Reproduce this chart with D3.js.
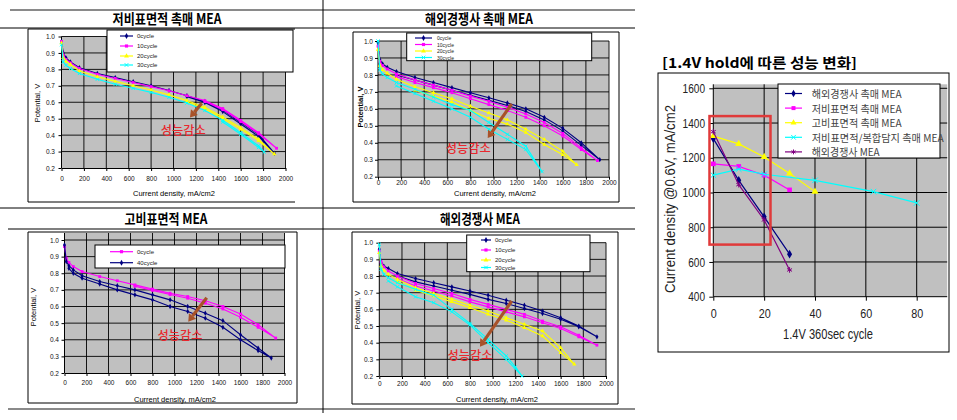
<!DOCTYPE html>
<html><head><meta charset="utf-8">
<script src="https://cdn.jsdelivr.net/npm/d3@7"></script>
<style>body{margin:0;background:#fff}svg{display:block}</style>
</head><body>
<svg id="c" width="957" height="420"></svg>
<script>
// ---------------- data ----------------
const currentTicks = [0,200,400,600,800,1000,1200,1400,1600,1800,2000];
const potentialTicks = [0.2,0.3,0.4,0.5,0.6,0.7,0.8,0.9,1.0];
const cycleTicks = [0,20,40,60,80];
const densityTicks = [400,600,800,1000,1200,1400,1600];

const panelTitles = ["저비표면적 촉매 MEA","해외경쟁사 촉매 MEA","고비표면적 MEA","해외경쟁사 MEA"];
const cycleLabels4 = ["0cycle","10cycle","20cycle","30cycle"];
const cycleLabels2 = ["0cycle","40cycle"];
const noteText = "성능감소";

// [current density mA/cm2, potential V] in scan order (forward, then return)
const tlCycle0 = [[0,0.97],[16,0.90],[40,0.87],[80,0.845],[160,0.81],[320,0.775],[480,0.75],[640,0.725],[800,0.70],[960,0.672],[1120,0.64],[1280,0.605],[1440,0.552],[1600,0.478],[1760,0.405],[1900,0.29],[1760,0.393],[1600,0.468],[1440,0.543],[1280,0.598],[1120,0.634]];
const tlCycle10 = [[0,0.97],[16,0.885],[40,0.86],[80,0.84],[160,0.805],[320,0.77],[480,0.745],[640,0.72],[800,0.695],[960,0.67],[1120,0.64],[1280,0.61],[1440,0.562],[1600,0.49],[1760,0.415],[1920,0.32],[1760,0.408],[1600,0.482],[1440,0.555],[1280,0.604]];
const tlCycle20 = [[0,0.96],[16,0.87],[40,0.85],[80,0.83],[160,0.79],[320,0.755],[480,0.727],[640,0.70],[800,0.675],[960,0.645],[1120,0.61],[1280,0.57],[1440,0.51],[1600,0.445],[1760,0.375],[1900,0.285],[1760,0.365],[1600,0.435],[1440,0.50],[1280,0.56],[1120,0.602]];
const tlCycle30 = [[0,0.95],[16,0.845],[40,0.825],[80,0.805],[160,0.775],[320,0.74],[480,0.71],[640,0.685],[800,0.66],[960,0.63],[1120,0.595],[1280,0.55],[1440,0.49],[1600,0.415],[1760,0.335],[1810,0.297],[1760,0.325],[1600,0.405],[1440,0.48]];

const tmCycle0 = [[0,0.99],[16,0.89],[40,0.865],[80,0.845],[160,0.82],[320,0.785],[480,0.755],[640,0.725],[800,0.695],[960,0.665],[1120,0.635],[1280,0.60],[1440,0.55],[1600,0.485],[1760,0.40],[1920,0.30],[1760,0.385],[1600,0.47],[1440,0.535],[1280,0.585],[1120,0.62],[960,0.65],[800,0.68],[640,0.71],[480,0.74],[320,0.77],[160,0.80]];
const tmCycle10 = [[0,0.97],[16,0.88],[40,0.855],[80,0.835],[160,0.805],[320,0.77],[480,0.74],[640,0.71],[800,0.675],[960,0.645],[1120,0.61],[1280,0.57],[1440,0.52],[1600,0.455],[1760,0.37],[1900,0.295],[1760,0.36],[1600,0.44],[1440,0.50],[1280,0.55],[1120,0.59],[960,0.625],[800,0.66],[640,0.695],[480,0.725],[320,0.755],[160,0.79]];
const tmCycle20 = [[0,0.95],[16,0.855],[40,0.83],[80,0.81],[160,0.775],[320,0.73],[480,0.695],[640,0.66],[800,0.615],[960,0.575],[1120,0.535],[1280,0.48],[1440,0.42],[1600,0.35],[1720,0.27],[1600,0.33],[1440,0.39],[1280,0.46],[1120,0.51],[960,0.545],[800,0.59],[640,0.64],[480,0.675],[320,0.71]];
const tmCycle30 = [[0,1.0],[16,0.83],[40,0.805],[80,0.785],[160,0.755],[320,0.715],[480,0.67],[640,0.625],[800,0.59],[960,0.52],[1120,0.45],[1280,0.38],[1420,0.23],[1280,0.36],[1120,0.42],[960,0.48],[800,0.55],[640,0.60],[480,0.645],[320,0.69],[160,0.735]];

const blCycle0 = [[0,0.96],[16,0.89],[40,0.865],[80,0.84],[160,0.81],[320,0.78],[480,0.755],[640,0.73],[800,0.705],[960,0.68],[1120,0.66],[1280,0.635],[1440,0.60],[1600,0.555],[1760,0.49],[1920,0.41],[1760,0.475],[1600,0.535],[1440,0.585],[1280,0.62],[1120,0.65],[960,0.672],[800,0.697],[640,0.722]];
const blCycle40 = [[0,0.97],[16,0.87],[40,0.845],[80,0.82],[160,0.785],[320,0.75],[480,0.725],[640,0.70],[800,0.67],[960,0.64],[1120,0.60],[1280,0.56],[1440,0.515],[1600,0.43],[1760,0.35],[1880,0.29],[1760,0.335],[1600,0.40],[1440,0.475],[1280,0.53],[1120,0.57],[960,0.60],[800,0.64],[640,0.67],[480,0.70],[320,0.735],[160,0.77],[80,0.80],[40,0.83]];

const bmCycle0 = [[0,0.96],[16,0.88],[40,0.86],[80,0.845],[160,0.815],[320,0.785],[480,0.76],[640,0.735],[800,0.71],[960,0.685],[1120,0.655],[1280,0.625],[1440,0.59],[1600,0.55],[1760,0.50],[1920,0.435],[1760,0.495],[1600,0.54],[1440,0.575],[1280,0.605],[1120,0.635],[960,0.66],[800,0.69],[640,0.715],[480,0.74],[320,0.765],[160,0.80]];
const bmCycle10 = [[0,0.95],[16,0.885],[40,0.855],[80,0.83],[160,0.80],[320,0.755],[480,0.725],[640,0.695],[800,0.66],[960,0.63],[1120,0.60],[1280,0.57],[1440,0.53],[1600,0.495],[1760,0.445],[1920,0.385],[1760,0.435],[1600,0.485],[1440,0.52],[1280,0.555],[1120,0.585],[960,0.615],[800,0.645],[640,0.68],[480,0.71],[320,0.74],[160,0.785]];
const bmCycle20 = [[0,0.94],[16,0.86],[40,0.835],[80,0.81],[160,0.78],[320,0.73],[480,0.695],[640,0.66],[800,0.625],[960,0.59],[1120,0.55],[1280,0.51],[1440,0.47],[1600,0.37],[1720,0.27],[1600,0.34],[1440,0.44],[1280,0.49],[1120,0.535],[960,0.57],[800,0.61],[640,0.645],[480,0.68],[320,0.715],[160,0.765]];
const bmCycle30 = [[0,0.99],[16,0.84],[40,0.81],[80,0.79],[160,0.76],[320,0.72],[480,0.685],[640,0.60],[800,0.515],[960,0.42],[1120,0.32],[1200,0.255],[1260,0.2],[1120,0.30],[960,0.40],[800,0.505],[640,0.585],[480,0.64],[320,0.675],[160,0.735],[80,0.77]];

// annotation arrows in data units: [from, to], and note position
const tlArrow = [[1252,0.594],[1147,0.507]], tlNote = [1087,0.432];
const tmArrow = [[1157,0.629],[950,0.428]],  tmNote = [782,0.372];
const blArrow = [[1293,0.653],[1125,0.509]], blNote = [1050,0.432];
const bmArrow = [[1168,0.65],[888,0.376]],   bmNote = [800,0.330];

// right chart: 1.4V hold cycling
const holdTitle = "[1.4V hold에 따른 성능 변화]";
const holdNames = ["해외경쟁사 촉매 MEA","저비표면적 촉매 MEA","고비표면적 촉매 MEA","저비표면적/복합담지 촉매 MEA","해외경쟁사 MEA"];
const holdCyclesA = [0,10,20,30];        const holdA = [1310,1070,860,645];
const holdCyclesB = [0,10,20,30];        const holdB = [1165,1150,1100,1015];
const holdCyclesC = [0,10,20,30,40];     const holdC = [1325,1280,1205,1110,1005];
const holdCyclesD = [0,10,20,40,63,80];  const holdD = [1100,1135,1105,1070,1005,940];
const holdCyclesE = [0,10,20,30];        const holdE = [1350,1045,842,554];
const holdBoxCycles = [-1.5,22.5], holdBoxDensity = [700,1440];

// ---------------- drawing ----------------
const svg = d3.select("#c");
const KR = "'Noto Sans CJK KR', sans-serif";
const LAT = "'Liberation Sans', Arial, sans-serif";
const NAVY="#000080", MAG="#ff00ff", YEL="#ffff00", CYA="#00ffff", PUR="#800080";
const SYM = {diamond:d3.symbolDiamond, square:d3.symbolSquare, triangle:d3.symbolTriangle, times:d3.symbolTimes, asterisk:d3.symbolAsterisk};
const STROKE_SYM = {times:true, asterisk:true};

function hline(x1,x2,y,c,w){svg.append("line").attr("x1",x1).attr("x2",x2).attr("y1",y).attr("y2",y).attr("stroke",c).attr("stroke-width",w);}
function vline(x,y1,y2,c,w){svg.append("line").attr("x1",x).attr("x2",x).attr("y1",y1).attr("y2",y2).attr("stroke",c).attr("stroke-width",w);}

// table frame
hline(10,635,10,"#8a8a8a",2);
hline(0,635,28,"#000",1);
hline(0,635,208,"#000",1);
hline(8,635,229,"#555",1.5);
hline(8,635,409,"#8a8a8a",2);
vline(323,0,413,"#000",1);

const titlePos = [[167,18,109],[479,18,108],[166,218,83],[480,218,80]];
panelTitles.forEach((t,i)=>{
  svg.append("text").attr("x",titlePos[i][0]).attr("y",titlePos[i][1]).attr("text-anchor","middle")
    .attr("dominant-baseline","central").attr("font-family",KR).attr("font-weight","bold").attr("font-size",14)
    .attr("textLength",titlePos[i][2]).attr("lengthAdjust","spacingAndGlyphs").text(t);
});

function marker(g, sym, color, x, y, size){
  const p = g.append("path").attr("d", d3.symbol().type(SYM[sym]).size(size)()).attr("transform",`translate(${x},${y})`);
  if (STROKE_SYM[sym]) p.attr("fill","none").attr("stroke",color).attr("stroke-width",1);
  else p.attr("fill",color).attr("stroke","none");
}

function arrow(g,x1,y1,x2,y2,color){
  const dx=x2-x1, dy=y2-y1, L=Math.hypot(dx,dy), ux=dx/L, uy=dy/L;
  const hl=7, hw=4.5, bx=x2-ux*hl, by=y2-uy*hl;
  g.append("line").attr("x1",x1).attr("y1",y1).attr("x2",bx).attr("y2",by).attr("stroke",color).attr("stroke-width",3.2);
  g.append("path").attr("d",`M${x2},${y2}L${bx-uy*hw},${by+ux*hw}L${bx+uy*hw},${by-ux*hw}Z`).attr("fill",color);
}

function ivChart(cfg){
  const g = svg.append("g");
  const x = d3.scaleLinear().domain([0,2000]).range([cfg.x0,cfg.x1]);
  const y = d3.scaleLinear().domain([0.2,1.0]).range([cfg.yb,cfg.yt]);
  const b = cfg.box;
  hline(b.x,b.x+b.w,b.y,"#000",1); hline(b.x,b.x+b.w,b.y+b.h,"#000",1);
  vline(b.x,b.y,b.y+b.h,"#000",1);
  if (b.right) vline(b.x+b.w,b.y,b.y+b.h,"#000",1);
  const gt = cfg.grayTop ?? cfg.yt;
  g.append("rect").attr("x",cfg.x0).attr("y",gt).attr("width",cfg.x1-cfg.x0).attr("height",cfg.yb-gt).attr("fill","#c0c0c0");
  g.selectAll(null).data(currentTicks.slice(1)).join("line").attr("x1",d=>x(d)).attr("x2",d=>x(d))
    .attr("y1",gt).attr("y2",cfg.yb).attr("stroke","#000").attr("stroke-width",0.9);
  g.selectAll(null).data(potentialTicks.slice(1)).join("line").attr("x1",cfg.x0).attr("x2",cfg.x1)
    .attr("y1",d=>y(d)).attr("y2",d=>y(d)).attr("stroke","#000").attr("stroke-width",0.9);
  const ax = g.append("g").attr("transform",`translate(0,${cfg.yb})`)
    .call(d3.axisBottom(x).tickValues(currentTicks).tickFormat(d3.format("d")).tickSize(3).tickSizeOuter(0));
  ax.selectAll("text").attr("y",cfg.xLabelY-cfg.yb).attr("dy","0.35em").attr("font-family",LAT).attr("font-size",cfg.tickFs).attr("fill","#111");
  const ay = g.append("g").attr("transform",`translate(${cfg.x0},0)`)
    .call(d3.axisLeft(y).tickValues(potentialTicks).tickFormat(d3.format(".1f")).tickSize(3).tickSizeOuter(0));
  ay.select(".domain").attr("d",`M0,${gt}V${cfg.yb}`);
  ay.selectAll("text").attr("x",cfg.yLabelX-cfg.x0).attr("font-family",LAT).attr("font-size",cfg.tickFs).attr("fill","#111");
  g.append("text").attr("x",cfg.xTitle[0]).attr("y",cfg.xTitle[1]).attr("text-anchor","middle").attr("dominant-baseline","central")
    .attr("font-family",LAT).attr("font-size",7.5).text("Current density, mA/cm2");
  g.append("text").attr("transform",`translate(${cfg.yTitle[0]},${cfg.yTitle[1]}) rotate(-90)`).attr("text-anchor","middle")
    .attr("dominant-baseline","central").attr("font-family",LAT).attr("font-size",7.5).attr("font-weight",cfg.yTitleBold?"bold":"normal").text("Potential, V");
  const line = d3.line().x(d=>x(d[0])).y(d=>y(d[1]));
  cfg.series.forEach(s=>{
    g.append("path").attr("d",line(s.data)).attr("fill","none").attr("stroke",s.color).attr("stroke-width",1.1);
    s.data.forEach(d=>marker(g,s.sym,s.color,x(d[0]),y(d[1]),8));
  });
  const L = cfg.legend;
  g.append("rect").attr("x",L.x).attr("y",L.y).attr("width",L.w).attr("height",L.h).attr("fill","#fff").attr("stroke","#000").attr("stroke-width",1);
  cfg.series.forEach((s,i)=>{
    const ry = L.rows[i];
    g.append("line").attr("x1",L.lx[0]).attr("x2",L.lx[1]).attr("y1",ry).attr("y2",ry).attr("stroke",s.color).attr("stroke-width",1.2);
    marker(g,s.sym,s.color,(L.lx[0]+L.lx[1])/2,ry,10);
    g.append("text").attr("x",L.tx).attr("y",ry).attr("dominant-baseline","central").attr("font-family",LAT)
      .attr("font-size",L.fs).attr("fill","#222").text(s.name);
  });
  arrow(g,x(cfg.arrow[0][0]),y(cfg.arrow[0][1]),x(cfg.arrow[1][0]),y(cfg.arrow[1][1]),"#a8522a");
  g.append("text").attr("x",x(cfg.note[0])).attr("y",y(cfg.note[1])).attr("text-anchor","middle").attr("dominant-baseline","central")
    .attr("font-family",KR).attr("font-size",12).attr("font-weight","500").attr("fill","#e8282e")
    .attr("textLength",45).attr("lengthAdjust","spacingAndGlyphs").text(noteText);
}

const four = (a,b,c,d)=>[
  {name:cycleLabels4[0],data:a,color:NAVY,sym:"diamond"},
  {name:cycleLabels4[1],data:b,color:MAG,sym:"square"},
  {name:cycleLabels4[2],data:c,color:YEL,sym:"triangle"},
  {name:cycleLabels4[3],data:d,color:CYA,sym:"times"}];

ivChart({x0:61.5,x1:285.5,yt:36.5,yb:168,yLabelX:55,xLabelY:179,tickFs:6.5,xTitle:[174,193],yTitle:[37,103],
  box:{x:28,y:29,w:267,h:173,right:false},
  legend:{x:107,y:30,w:186,h:42,rows:[36,46,56,65],lx:[120,133],tx:137,fs:6},
  series:four(tlCycle0,tlCycle10,tlCycle20,tlCycle30),arrow:tlArrow,note:tlNote});
ivChart({x0:378,x1:609,yt:41,yb:176.7,yLabelX:373,xLabelY:183,tickFs:6.5,xTitle:[495,193],yTitle:[360,107],yTitleBold:true,
  box:{x:353,y:32,w:266,h:170,right:true},
  legend:{x:406.7,y:33,w:185,h:27.7,rows:[38,44.5,51,57.5],lx:[415,432],tx:437,fs:5},
  series:four(tmCycle0,tmCycle10,tmCycle20,tmCycle30),arrow:tmArrow,note:tmNote});
ivChart({x0:64.5,x1:284.5,yt:240,yb:373,grayTop:233,yLabelX:59,xLabelY:383,tickFs:6.5,xTitle:[175,399],yTitle:[33,307],
  box:{x:28,y:232,w:269,h:171,right:true},
  legend:{x:95,y:245,w:190,h:23,rows:[251.7,262.7],lx:[110,133],tx:137,fs:6},
  series:[{name:cycleLabels2[0],data:blCycle0,color:MAG,sym:"square"},{name:cycleLabels2[1],data:blCycle40,color:NAVY,sym:"diamond"}],
  arrow:blArrow,note:blNote});
ivChart({x0:379.3,x1:606,yt:242.7,yb:376,yLabelX:373,xLabelY:384,tickFs:6.5,xTitle:[497,399],yTitle:[357,310],
  box:{x:352,y:232,w:266,h:172,right:true},
  legend:{x:466.7,y:235,w:123.3,h:36.7,rows:[240,250,260,267.5],lx:[481,491],tx:495,fs:6},
  series:four(bmCycle0,bmCycle10,bmCycle20,bmCycle30),arrow:bmArrow,note:bmNote});

// ---------------- right chart ----------------
(function(){
  const g = svg.append("g");
  const x = d3.scaleLinear().domain([0,92]).range([713.3,947.2]);
  const y = d3.scaleLinear().domain([400,1600]).range([296.7,88.3]);
  g.append("text").attr("x",662).attr("y",62).attr("dominant-baseline","central").attr("font-family",KR)
    .attr("font-weight","bold").attr("font-size",14).attr("textLength",195).attr("lengthAdjust","spacingAndGlyphs").text(holdTitle);
  g.append("rect").attr("x",658).attr("y",73).attr("width",291).attr("height",279).attr("fill","#fff").attr("stroke","#000").attr("stroke-width",1);
  g.append("rect").attr("x",x(0)).attr("y",y(1600)-4).attr("width",x(92)-x(0)).attr("height",y(400)-y(1600)+4).attr("fill","#c0c0c0");
  g.selectAll(null).data(cycleTicks.slice(1)).join("line").attr("x1",d=>x(d)).attr("x2",d=>x(d))
    .attr("y1",y(1600)-4).attr("y2",y(400)).attr("stroke","#000").attr("stroke-width",1);
  g.selectAll(null).data(densityTicks.slice(1)).join("line").attr("x1",x(0)).attr("x2",x(92))
    .attr("y1",d=>y(d)).attr("y2",d=>y(d)).attr("stroke","#000").attr("stroke-width",1);
  const ax = g.append("g").attr("transform",`translate(0,${y(400)})`)
    .call(d3.axisBottom(x).tickValues(cycleTicks).tickFormat(d3.format("d")).tickSize(4).tickSizeOuter(0));
  ax.select(".domain").attr("d",`M${x(0)},0H${x(92)}`);
  ax.selectAll("text").attr("y",313.3-y(400)).attr("dy","0.35em").attr("font-family",LAT).attr("font-size",13).attr("fill","#222")
    .attr("textLength",d=>String(d).length*6).attr("lengthAdjust","spacingAndGlyphs");
  const ay = g.append("g").attr("transform",`translate(${x(0)},0)`)
    .call(d3.axisLeft(y).tickValues(densityTicks).tickFormat(d3.format("d")).tickSize(4).tickSizeOuter(0));
  ay.select(".domain").attr("d",`M0,${y(1600)-4}V${y(400)}`);
  ay.selectAll("text").attr("x",705-x(0)).attr("font-family",LAT).attr("font-size",13).attr("fill","#222")
    .attr("textLength",d=>String(d).length*5.6).attr("lengthAdjust","spacingAndGlyphs");
  g.append("text").attr("transform","translate(670,199) rotate(-90)").attr("text-anchor","middle").attr("dominant-baseline","central")
    .attr("font-family",LAT).attr("font-size",14).attr("fill","#222").attr("textLength",188).attr("lengthAdjust","spacingAndGlyphs")
    .text("Current density @0.6V, mA/cm2");
  g.append("text").attr("x",828).attr("y",333.5).attr("text-anchor","middle").attr("dominant-baseline","central")
    .attr("font-family",LAT).attr("font-size",14).attr("fill","#222").attr("textLength",90).attr("lengthAdjust","spacingAndGlyphs")
    .text("1.4V 360sec cycle");

  const series = [
    {name:holdNames[0],xs:holdCyclesA,ys:holdA,color:NAVY,sym:"diamond"},
    {name:holdNames[1],xs:holdCyclesB,ys:holdB,color:MAG,sym:"square"},
    {name:holdNames[2],xs:holdCyclesC,ys:holdC,color:YEL,sym:"triangle"},
    {name:holdNames[3],xs:holdCyclesD,ys:holdD,color:CYA,sym:"times"},
    {name:holdNames[4],xs:holdCyclesE,ys:holdE,color:PUR,sym:"asterisk"}];
  const line = d3.line().x(d=>x(d[0])).y(d=>y(d[1]));
  series.forEach(s=>{
    const pts = s.xs.map((c,i)=>[c,s.ys[i]]);
    g.append("path").attr("d",line(pts)).attr("fill","none").attr("stroke",s.color).attr("stroke-width",1.2);
    pts.forEach(p=>marker(g,s.sym,s.color,x(p[0]),y(p[1]),22));
  });
  g.append("rect").attr("x",x(holdBoxCycles[0])).attr("y",y(holdBoxDensity[1]))
    .attr("width",x(holdBoxCycles[1])-x(holdBoxCycles[0])).attr("height",y(holdBoxDensity[0])-y(holdBoxDensity[1]))
    .attr("fill","none").attr("stroke","#e03a3a").attr("stroke-width",2.5);
  g.append("rect").attr("x",778).attr("y",84).attr("width",162).attr("height",74).attr("fill","#fff").attr("stroke","#000").attr("stroke-width",1);
  const tl = [90,90,90,132,68];
  series.forEach((s,i)=>{
    const ry = 93.5+i*14.6;
    g.append("line").attr("x1",785).attr("x2",802).attr("y1",ry).attr("y2",ry).attr("stroke",s.color).attr("stroke-width",1.2);
    marker(g,s.sym,s.color,793.5,ry,16);
    g.append("text").attr("x",811.7).attr("y",ry).attr("dominant-baseline","central").attr("font-family",KR)
      .attr("font-size",10).attr("fill","#444").attr("textLength",tl[i]).attr("lengthAdjust","spacingAndGlyphs").text(s.name);
  });
})();
</script>
</body></html>
